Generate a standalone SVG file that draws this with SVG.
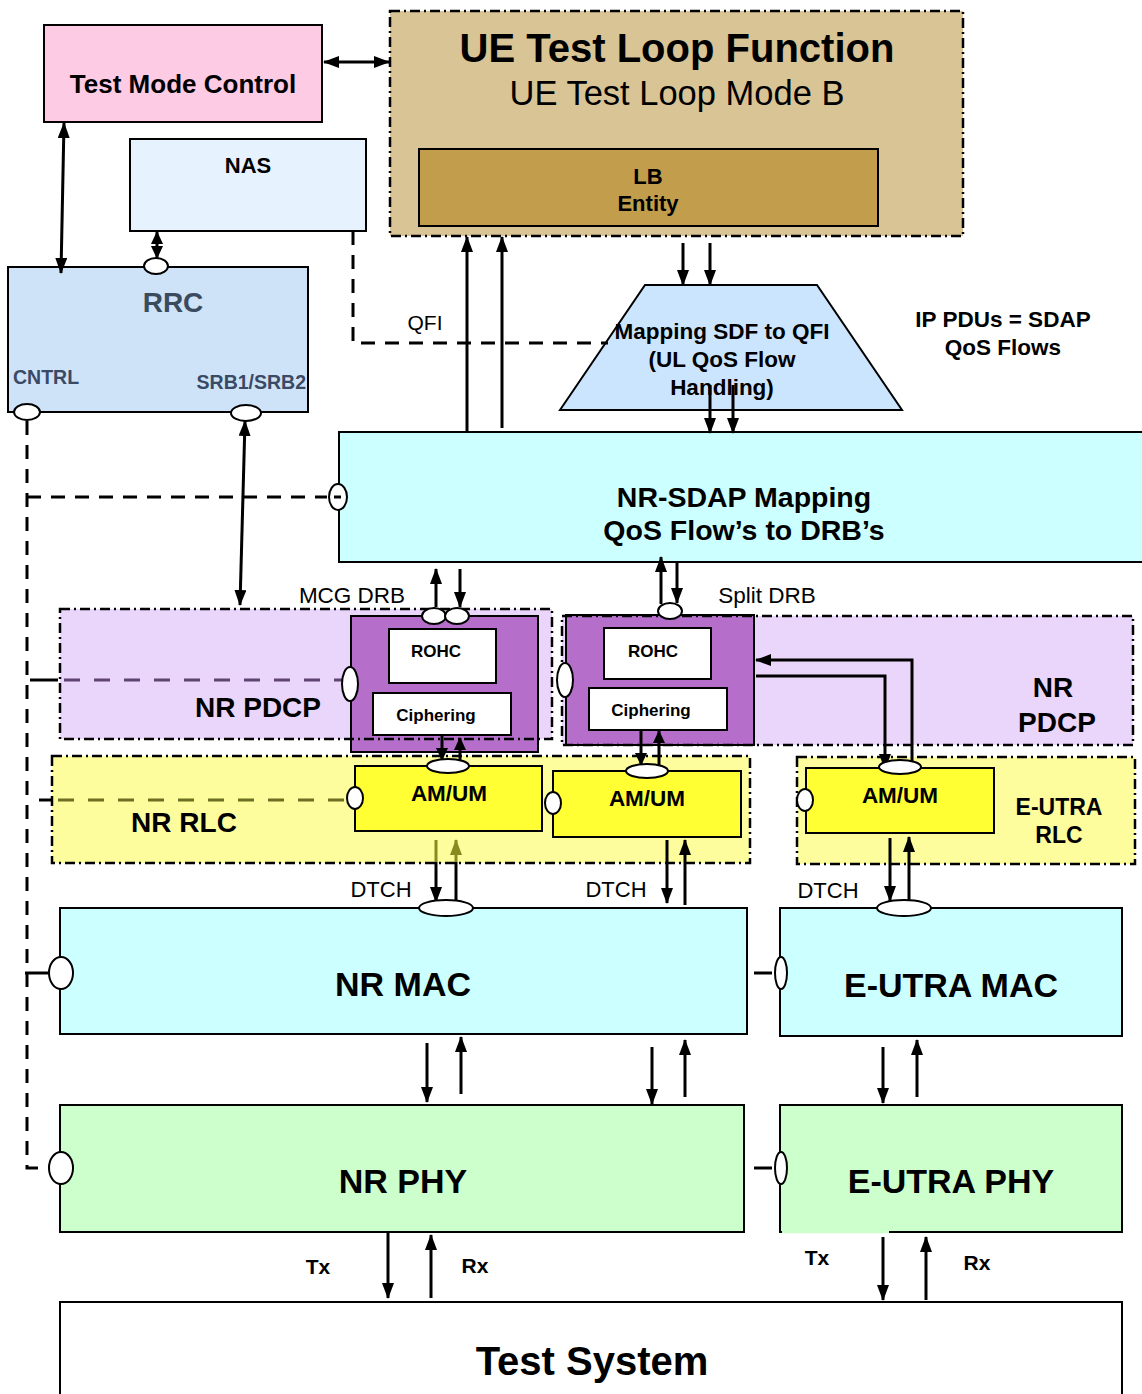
<svg xmlns="http://www.w3.org/2000/svg" width="1142" height="1394" viewBox="0 0 1142 1394">
<style>
.box{stroke:#000;stroke-width:2}
.grp{fill:none;stroke:#000;stroke-width:2.5;stroke-dasharray:10 4 2 4}
.ov{fill:#fff;stroke:#000;stroke-width:2}
.ln{stroke:#000;stroke-width:3;fill:none}
.dl{stroke:#000;stroke-width:3;stroke-dasharray:14 10;fill:none}
.t{font-family:"Liberation Sans",Arial,sans-serif;text-anchor:middle;fill:#000}
.b{font-weight:bold}
.a{marker-end:url(#ah)}
.aa{marker-start:url(#ah);marker-end:url(#ah)}
.as{marker-end:url(#ahs)}
</style>
<defs>
<marker id="ah" viewBox="0 0 16 12" refX="15" refY="6" markerWidth="16" markerHeight="12" markerUnits="userSpaceOnUse" orient="auto-start-reverse"><path d="M0,0 L16,6 L0,12 z" fill="#000"/></marker>
<marker id="ahs" viewBox="0 0 13 12" refX="12" refY="6" markerWidth="13" markerHeight="12" markerUnits="userSpaceOnUse" orient="auto-start-reverse"><path d="M0,0 L13,6 L0,12 z" fill="#000"/></marker>
<marker id="aho" viewBox="0 0 16 12" refX="15" refY="6" markerWidth="16" markerHeight="12" markerUnits="userSpaceOnUse" orient="auto"><path d="M0,0 L16,6 L0,12 z" fill="#8a8a1e"/></marker>
</defs>
<rect width="1142" height="1394" fill="#fff"/>

<!-- regions -->
<g id="nr-pdcp-region">
<rect x="60" y="609" width="492" height="130" fill="#ebd6fb"/>
<rect x="562" y="616" width="571" height="129" fill="#ebd6fb"/>
</g>
<g id="rlc-region">
<rect x="52" y="756" width="698" height="107" fill="#fdfd9e"/>
<rect x="797" y="757" width="338" height="107" fill="#fdfd9e"/>
</g>

<!-- nodes -->
<g id="test-mode-control">
<rect x="44" y="25" width="278" height="97" fill="#fdcbe3" class="box"/>
<text x="183" y="93" font-size="26" class="t b">Test Mode Control</text>
</g>
<g id="ue-test-loop">
<rect x="390" y="11" width="573" height="225" fill="#d9c496"/>
<rect x="390" y="11" width="573" height="225" class="grp"/>
<text x="677" y="62" font-size="40" class="t b">UE Test Loop Function</text>
<text x="677" y="105" font-size="34.5" class="t">UE Test Loop Mode B</text>
</g>
<g id="lb-entity">
<rect x="419" y="149" width="459" height="77" fill="#c29d4b" class="box"/>
<text x="648" y="184" font-size="22" class="t b">LB</text>
<text x="648" y="211" font-size="22" class="t b">Entity</text>
</g>
<g id="nas">
<rect x="130" y="139" width="236" height="92" fill="#e6f3fe" class="box"/>
<text x="248" y="173" font-size="22" class="t b">NAS</text>
</g>
<g id="rrc">
<rect x="8" y="267" width="300" height="145" fill="#cee3f8" class="box"/>
<text x="173" y="312" font-size="28" class="t b" style="fill:#3b4b5e">RRC</text>
<text x="13" y="384" font-size="19.5" class="t b" style="text-anchor:start;fill:#3a4a66">CNTRL</text>
<text x="306" y="389" font-size="19.5" class="t b" style="text-anchor:end;fill:#3a4a66">SRB1/SRB2</text>
</g>
<g id="mapping-sdf">
<polygon points="560,410 645,285 817,285 902,410" fill="#cce5ff" class="box"/>
<text x="722" y="339" font-size="22.5" class="t b">Mapping SDF to QFI</text>
<text x="722" y="367" font-size="22.5" class="t b">(UL QoS Flow</text>
<text x="722" y="395" font-size="22.5" class="t b">Handling)</text>
</g>
<g id="ip-pdus-note">
<text x="1003" y="327" font-size="22.5" class="t b">IP PDUs = SDAP</text>
<text x="1003" y="355" font-size="22.5" class="t b">QoS Flows</text>
</g>
<g id="nr-sdap">
<rect x="339" y="432" width="820" height="130" fill="#ccffff" class="box"/>
<text x="744" y="507" font-size="28.5" class="t b">NR-SDAP Mapping</text>
<text x="744" y="540" font-size="28.5" class="t b">QoS Flow’s to DRB’s</text>
</g>
<g id="pdcp-mcg">
<rect x="351" y="616" width="187" height="136" fill="#b56fcb" class="box"/>
<rect x="389" y="629" width="107" height="54" fill="#fff" class="box"/>
<text x="436" y="657" font-size="17" class="t b">ROHC</text>
<rect x="373" y="693" width="138" height="42" fill="#fff" class="box"/>
<text x="436" y="721" font-size="17" class="t b">Ciphering</text>
</g>
<g id="pdcp-split">
<rect x="566" y="615" width="188" height="130" fill="#b56fcb" class="box"/>
<rect x="604" y="628" width="107" height="51" fill="#fff" class="box"/>
<text x="653" y="657" font-size="17" class="t b">ROHC</text>
<rect x="589" y="688" width="138" height="42" fill="#fff" class="box"/>
<text x="651" y="716" font-size="17" class="t b">Ciphering</text>
</g>
<g id="nr-pdcp-labels">
<rect x="60" y="609" width="492" height="130" class="grp"/>
<rect x="562" y="616" width="571" height="129" class="grp"/>
<text x="258" y="717" font-size="28" class="t b">NR PDCP</text>
<text x="1053" y="697" font-size="28" class="t b">NR</text>
<text x="1057" y="732" font-size="28" class="t b">PDCP</text>
</g>
<g id="rlc-labels">
<rect x="52" y="756" width="698" height="107" class="grp"/>
<rect x="797" y="757" width="338" height="107" class="grp"/>
<text x="184" y="832" font-size="28" class="t b">NR RLC</text>
<text x="1059" y="815" font-size="23" class="t b">E-UTRA</text>
<text x="1059" y="843" font-size="23" class="t b">RLC</text>
</g>
<g id="amum-mcg">
<rect x="355" y="766" width="187" height="65" fill="#ffff33" class="box"/>
<text x="449" y="801" font-size="22.5" class="t b">AM/UM</text>
</g>
<g id="amum-split">
<rect x="553" y="771" width="188" height="66" fill="#ffff33" class="box"/>
<text x="647" y="806" font-size="22.5" class="t b">AM/UM</text>
</g>
<g id="amum-eutra">
<rect x="806" y="768" width="188" height="65" fill="#ffff33" class="box"/>
<text x="900" y="803" font-size="22.5" class="t b">AM/UM</text>
</g>
<g id="nr-mac">
<rect x="60" y="908" width="687" height="126" fill="#ccffff" class="box"/>
<text x="403" y="996" font-size="34" class="t b">NR MAC</text>
</g>
<g id="eutra-mac">
<rect x="780" y="908" width="342" height="128" fill="#ccffff" class="box"/>
<text x="951" y="997" font-size="34" class="t b">E-UTRA MAC</text>
</g>
<g id="nr-phy">
<rect x="60" y="1105" width="684" height="127" fill="#ccffcc" class="box"/>
<text x="403" y="1193" font-size="34" class="t b">NR PHY</text>
</g>
<g id="eutra-phy">
<rect x="780" y="1105" width="342" height="127" fill="#ccffcc" class="box"/>
<line x1="782" y1="1232" x2="889" y2="1232" stroke="#ccffcc" stroke-width="2.5"/>
<text x="951" y="1193" font-size="34" class="t b">E-UTRA PHY</text>
</g>
<g id="test-system">
<rect x="60" y="1302" width="1062" height="110" fill="#fff" class="box"/>
<text x="592" y="1375" font-size="40" class="t b">Test System</text>
</g>

<!-- connectors -->
<g id="connectors">
<path class="ln aa" d="M324,62 H389"/>
<path class="ln aa" d="M64,123 L61,273"/>
<path class="ln" d="M157,232 V258" style="marker-start:url(#ahs);marker-end:url(#ahs)"/>
<path class="ln aa" d="M245,421 L240,605"/>
<path class="dl" d="M353,231 V343 H608"/>
<path class="ln a" d="M683,243 V285"/>
<path class="ln a" d="M710,243 V285"/>
<path class="ln a" d="M710,385 V433"/>
<path class="ln a" d="M733,385 V433"/>
<path class="ln a" d="M467,432 V237"/>
<path class="ln a" d="M502,428 V237"/>
<path class="ln a" d="M436,607 V569"/>
<path class="ln a" d="M460,569 V607"/>
<path class="ln a" d="M661,604 V557"/>
<path class="ln a" d="M677,562 V603"/>
<path class="ln as" d="M442,736 V760"/>
<path class="ln as" d="M460,760 V738"/>
<path class="ln as" d="M641,731 V765"/>
<path class="ln as" d="M659,765 V731"/>
<path class="ln a" d="M912,762 V660 H756"/>
<path class="ln a" d="M756,676 H885 V769"/>
<path d="M436,840 V862" stroke="#8a8a1e" stroke-width="3"/>
<path class="ln a" d="M436,862 V902"/>
<path class="ln" d="M456,905 V862"/>
<path d="M456,862 V840" stroke="#8a8a1e" stroke-width="3" marker-end="url(#aho)"/>
<path class="ln a" d="M667,840 V903"/>
<path class="ln a" d="M685,905 V840"/>
<path class="ln a" d="M890,838 V901"/>
<path class="ln a" d="M909,901 V837"/>
<path class="ln a" d="M427,1043 V1102"/>
<path class="ln a" d="M461,1094 V1037"/>
<path class="ln a" d="M652,1047 V1104"/>
<path class="ln a" d="M685,1097 V1040"/>
<path class="ln a" d="M883,1047 V1103"/>
<path class="ln a" d="M917,1097 V1040"/>
<path class="ln a" d="M388,1233 V1298"/>
<path class="ln a" d="M431,1298 V1235"/>
<path class="ln a" d="M883,1237 V1300"/>
<path class="ln a" d="M926,1300 V1237"/>
<path class="dl" d="M27,421 V1168 H48"/>
<path class="dl" d="M27,497 H327"/>
<path class="ln" d="M30,680 H58"/>
<path d="M64,680 H343" stroke="#5e4470" stroke-width="3" stroke-dasharray="16 14"/>
<path class="ln" d="M39,800 H52"/>
<path d="M58,800 H346" stroke="#6e6e22" stroke-width="3" stroke-dasharray="16 14"/>
<path class="ln" d="M25,973 H48"/>
<path class="ln" d="M754,973 H772"/>
<path class="ln" d="M754,1168 H772"/>
</g>

<g id="ports">
<ellipse class="ov" cx="156" cy="266" rx="12" ry="8"/>
<ellipse class="ov" cx="27" cy="412" rx="13" ry="8"/>
<ellipse class="ov" cx="246" cy="413" rx="15" ry="8"/>
<ellipse class="ov" cx="338" cy="497" rx="9" ry="13"/>
<line x1="334" y1="497" x2="341" y2="497" stroke="#000" stroke-width="3"/>
<ellipse class="ov" cx="434" cy="616" rx="12" ry="8"/>
<ellipse class="ov" cx="457" cy="616" rx="12" ry="8"/>
<ellipse class="ov" cx="670" cy="611" rx="12" ry="8"/>
<ellipse class="ov" cx="350" cy="684" rx="8" ry="17"/>
<ellipse class="ov" cx="565" cy="680" rx="8" ry="17"/>
<ellipse class="ov" cx="448" cy="766" rx="21" ry="7"/>
<ellipse class="ov" cx="647" cy="771" rx="21" ry="7"/>
<ellipse class="ov" cx="900" cy="767" rx="21" ry="7"/>
<ellipse class="ov" cx="355" cy="798" rx="8" ry="11"/>
<ellipse class="ov" cx="553" cy="803" rx="8" ry="11"/>
<ellipse class="ov" cx="805" cy="800" rx="8" ry="11"/>
<ellipse class="ov" cx="446" cy="908" rx="27" ry="8"/>
<ellipse class="ov" cx="904" cy="908" rx="27" ry="8"/>
<ellipse class="ov" cx="61" cy="973" rx="12" ry="16"/>
<ellipse class="ov" cx="61" cy="1168" rx="12" ry="16"/>
<ellipse class="ov" cx="781" cy="973" rx="6" ry="16"/>
<ellipse class="ov" cx="781" cy="1168" rx="6" ry="16"/>
</g>

<g id="labels">
<text x="425" y="330" font-size="21" class="t">QFI</text>
<text x="352" y="603" font-size="22.5" class="t">MCG DRB</text>
<text x="767" y="603" font-size="22.5" class="t">Split DRB</text>
<text x="381" y="897" font-size="22" class="t">DTCH</text>
<text x="616" y="897" font-size="22" class="t">DTCH</text>
<text x="828" y="898" font-size="22" class="t">DTCH</text>
<text x="318" y="1274" font-size="21" class="t b">Tx</text>
<text x="475" y="1273" font-size="21" class="t b">Rx</text>
<text x="817" y="1265" font-size="21" class="t b">Tx</text>
<text x="977" y="1270" font-size="21" class="t b">Rx</text>
</g>
</svg>
